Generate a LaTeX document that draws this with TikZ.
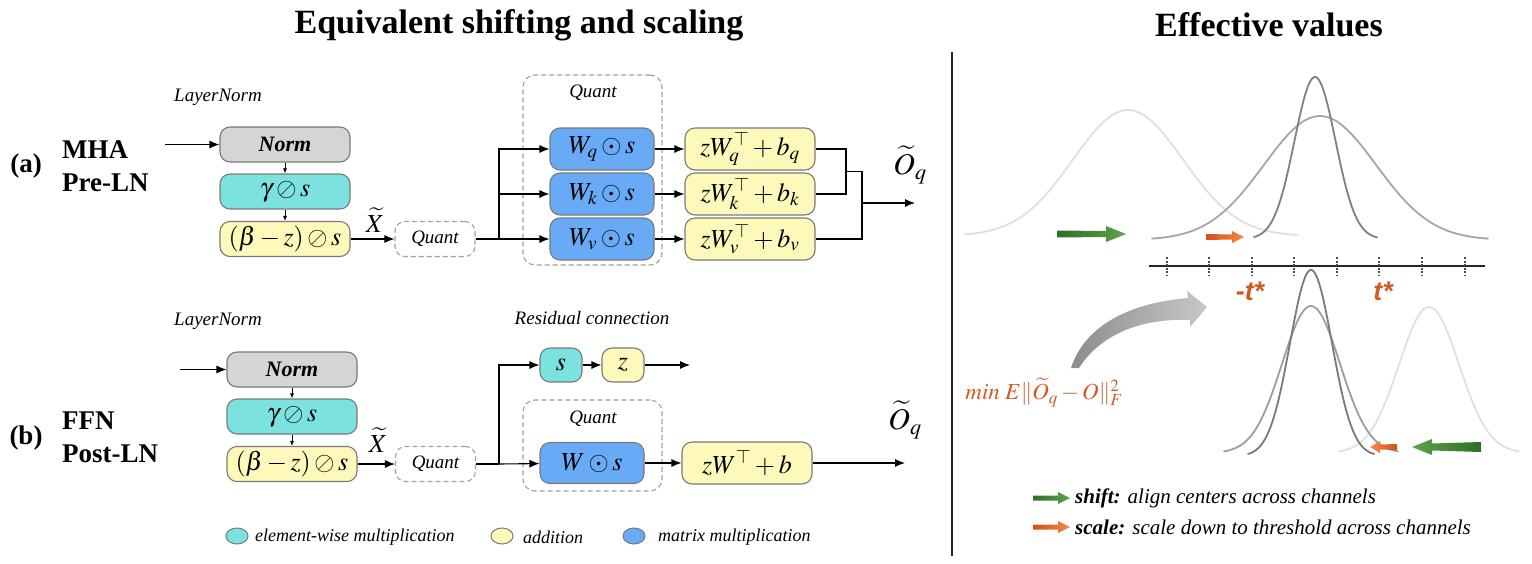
\documentclass[tikz,border=0pt]{standalone}
\usepackage{mathptmx}
\usepackage{fontspec}
\setmainfont{Liberation Serif}
\newfontfamily\lsansfam{Liberation Sans}
\usetikzlibrary{arrows.meta}
\definecolor{normgray}{HTML}{D5D5D5}
\definecolor{cyanf}{HTML}{7BE2DF}
\definecolor{yellowf}{HTML}{FCF9BA}
\definecolor{bluef}{HTML}{68AAF6}
\definecolor{bordergray}{HTML}{7A7A7A}
\definecolor{dashgray}{HTML}{A0A0A0}
\definecolor{orangeT}{HTML}{CF5A22}
\definecolor{greenD}{HTML}{2F6E26}
\definecolor{greenL}{HTML}{5EA34A}
\definecolor{orangeD}{HTML}{D4501A}
\definecolor{orangeL}{HTML}{F08A4A}
\begin{document}
\begin{tikzpicture}[x=1pt,y=-1pt,
  box/.style={draw=bordergray,line width=1.1pt,rounded corners=10pt,inner sep=0pt,minimum width=130pt,minimum height=35pt,font=\fontsize{26}{30}\selectfont},
  gbox/.style={box,fill=normgray,font=\fontsize{22}{26}\selectfont\bfseries\itshape},
  cbox/.style={box,fill=cyanf},
  ybox/.style={box,fill=yellowf},
  bbox/.style={box,fill=bluef,minimum width=104pt,minimum height=42pt},
  zbox/.style={box,fill=yellowf,minimum height=42pt},
  qbox/.style={draw=dashgray,dashed,dash pattern=on 5pt off 3pt,line width=1.1pt,rounded corners=10pt,minimum width=80pt,minimum height=35pt,inner sep=0pt,font=\fontsize{19}{22}\selectfont\itshape},
  qcont/.style={draw=dashgray,dash pattern=on 5pt off 3pt,line width=1.1pt,rounded corners=12pt,inner sep=0pt},
  itl/.style={inner sep=0pt,font=\fontsize{19}{22}\selectfont\itshape},
  lab/.style={inner sep=0pt,font=\fontsize{27}{30}\selectfont\bfseries},
  title/.style={inner sep=0pt,font=\fontsize{34}{40}\selectfont\bfseries},
  mlab/.style={inner sep=0pt,font=\fontsize{28}{30}\selectfont},
  arr/.style={-{Latex[length=10pt,width=8pt]},line width=1.1pt},
  sarr/.style={-{Latex[length=5pt,width=4pt]},line width=0.8pt},
  ln/.style={line width=1.1pt},
  legt/.style={inner sep=0pt,anchor=west,font=\fontsize{18}{20}\selectfont\itshape},
  rlegt/.style={inner sep=0pt,anchor=west,font=\fontsize{21}{24}\selectfont\itshape},
  tlab/.style={inner sep=0pt,text=orangeT,font=\fontsize{27}{30}\selectfont\lsansfam\bfseries\itshape},
  tick/.style={line width=1.5pt,black!70,dash pattern=on 2pt off 1.5pt},
  gauss/.style={line width=1.8pt,line cap=round}
]
\useasboundingbox[fill=white] (0,0) rectangle (1532,563);

% titles and separator
\node[title] (t1) at (519,25) {Equivalent shifting and scaling};
\node[title] (t2) at (1269,25) {Effective values};
\coordinate (sepT) at (952,52);
\coordinate (sepB) at (952,556);
\draw[line width=1.3pt,black!85] (sepT) -- (sepB);

% ---------- row (a)
\node[lab] (la) at (26,166) {(a)};
\node[lab,anchor=west] (mha) at (62,150) {MHA};
\node[lab,anchor=west] (preln) at (62,183) {Pre-LN};
\node[itl] (lna) at (218,97) {LayerNorm};

\node[gbox] (norma) at (285,144.5) {Norm};
\node[cbox] (gama) at (285,191.5) {$\gamma\oslash s$};
\node[ybox] (betaa) at (285,239) {$(\beta-z)\oslash s$};
\coordinate (ina) at (165,144.5);
\draw[arr] (ina) -- (norma);
\draw[sarr] (norma) -- (gama);
\draw[sarr] (gama) -- (betaa);
\node[qbox] (qa) at (435,239) {Quant};
\draw[arr] (betaa) -- (qa);
\node[mlab,font=\fontsize{26}{28}\selectfont] (xa) at (375,220) {$\widetilde{X}$};
\coordinate (sa) at (499,239);
\draw[ln] (qa) -- (sa);

\node[qcont,minimum width=139pt,minimum height=190pt] (qca) at (592.5,170) {};
\node[itl] (qla) at (593,93) {Quant};
\node[bbox] (wq) at (602,149) {$W_q\odot s$};
\node[bbox] (wk) at (602,194) {$W_k\odot s$};
\node[bbox] (wv) at (602,239) {$W_v\odot s$};
\draw[arr] (sa) |- (wq);
\draw[arr] (sa) |- (wk);
\draw[arr] (sa) -- (wv);
\node[zbox] (zq) at (750,149) {$zW_q^{\top}+b_q$};
\node[zbox] (zk) at (750,194) {$zW_k^{\top}+b_k$};
\node[zbox] (zv) at (750,239) {$zW_v^{\top}+b_v$};
\draw[arr] (wq) -- (zq);
\draw[arr] (wk) -- (zk);
\draw[arr] (wv) -- (zv);
\coordinate (ma) at (846,149);
\coordinate (mb) at (846,194);
\coordinate (mc) at (846,171.5);
\coordinate (md) at (862,171.5);
\coordinate (me) at (862,239);
\coordinate (mo) at (862,203);
\coordinate (outa) at (915,203);
\draw[ln] (zq) -- (ma) -- (mb) -- (zk);
\draw[ln] (mc) -- (md) -- (me) -- (zv);
\draw[arr] (mo) -- (outa);
\node[mlab,font=\fontsize{30}{32}\selectfont] (oa) at (910,165) {$\widetilde{O}_q$};

% ---------- row (b)
\node[lab] (lb) at (26,438) {(b)};
\node[lab,anchor=west] (ffn) at (62,421) {FFN};
\node[lab,anchor=west] (postln) at (62,454) {Post-LN};
\node[itl] (lnb) at (218,321) {LayerNorm};

\node[gbox] (normb) at (292,369.5) {Norm};
\node[cbox] (gamb) at (292,416.5) {$\gamma\oslash s$};
\node[ybox] (betab) at (292,464) {$(\beta-z)\oslash s$};
\coordinate (inb) at (180,369.5);
\draw[arr] (inb) -- (normb);
\draw[sarr] (normb) -- (gamb);
\draw[sarr] (gamb) -- (betab);
\node[qbox] (qb) at (435.5,464) {Quant};
\draw[arr] (betab) -- (qb);
\node[mlab,font=\fontsize{26}{28}\selectfont] (xb) at (378,440) {$\widetilde{X}$};
\coordinate (sb) at (499,464);
\draw[ln] (qb) -- (sb);

\node[itl] (resl) at (592,318) {Residual connection};
\node[box,fill=cyanf,minimum width=42pt,minimum height=34pt] (sbx) at (561,365) {$s$};
\node[box,fill=yellowf,minimum width=42pt,minimum height=34pt] (zbx) at (623,365) {$z$};
\coordinate (resout) at (690,365);
\draw[arr] (sb) |- (sbx);
\draw[arr] (sbx) -- (zbx);
\draw[arr] (zbx) -- (resout);

\node[qcont,minimum width=139pt,minimum height=91pt] (qcb) at (592.5,445.5) {};
\node[itl] (qlb) at (593,419) {Quant};
\node[bbox,minimum height=41pt] (wb) at (592,463) {$W\odot s$};
\draw[arr] (sb) -- (wb);
\node[zbox] (zwb) at (747,463) {$zW^{\top}+b$};
\draw[arr] (wb) -- (zwb);
\coordinate (outb) at (905,463);
\draw[arr] (zwb) -- (outb);
\node[mlab,font=\fontsize{30}{32}\selectfont] (ob) at (905,420) {$\widetilde{O}_q$};

% legend (left)
\path[draw=bordergray,line width=1pt,fill=cyanf] (237,536) ellipse [x radius=11pt,y radius=8pt];
\node[legt] (lg1) at (255,537) {element-wise multiplication};
\path[draw=bordergray,line width=1pt,fill=yellowf] (502,536) ellipse [x radius=11pt,y radius=8pt];
\node[legt] (lg2) at (523,537) {addition};
\path[draw=bordergray,line width=1pt,fill=bluef] (634,536) ellipse [x radius=11pt,y radius=8pt];
\node[legt] (lg3) at (658,537) {matrix multiplication};

% ---------- right panel
% top distributions
\draw[gauss,black!12] plot[domain=965:1297,samples=90] (\x,{236-126*exp(-0.5*((\x-1128)/55)^2)});
\draw[gauss,black!35] plot[domain=1152:1488,samples=90] (\x,{240-124*exp(-0.5*((\x-1320)/56)^2)});
\draw[gauss,black!50] plot[domain=1254:1377,samples=90] (\x,{239-162*exp(-0.5*((\x-1315)/20.5)^2)});
% axis
\draw[line width=1.8pt,black!85] (1149,266) -- (1485,266);
\foreach \t in {1167,1209,1252,1294,1337,1379,1422,1465}
  \draw[tick] (\t,257) -- (\t,276);
\node[tlab] (mt) at (1250,291) {-t*};
\node[tlab] (pt) at (1383,291) {t*};
% bottom distributions
\draw[gauss,black!12] plot[domain=1339:1519,samples=90] (\x,{453-146*exp(-0.5*((\x-1429)/30)^2)});
\draw[gauss,black!38] plot[domain=1224:1398,samples=90] (\x,{453-147*exp(-0.5*((\x-1311)/29)^2)});
\draw[gauss,black!52] plot[domain=1248:1374,samples=90] (\x,{456-186*exp(-0.5*((\x-1311)/21)^2)});

% thick arrows
\shade[left color=greenD,right color=greenL] (1057,230.5) -- (1106,231) -- (1106,226) -- (1126,234) -- (1106,242) -- (1106,237) -- (1057,237.5) -- cycle;
\shade[left color=orangeD,right color=orangeL] (1206,234) -- (1232,234.5) -- (1232,231) -- (1244,237) -- (1232,243) -- (1232,239.5) -- (1206,240) -- cycle;
\shade[left color=orangeL,right color=orangeD] (1397,444) -- (1380,444.5) -- (1380,441) -- (1370,447) -- (1380,453) -- (1380,449.5) -- (1397,450) -- cycle;
\shade[left color=greenL,right color=greenD] (1481,442) -- (1432,443.5) -- (1432,439) -- (1412,447) -- (1432,455) -- (1432,450.5) -- (1481,452) -- cycle;

% curved gray arrow
\shade[left color=black!45,right color=black!22] (1071,368) .. controls (1085,325) and (1130,303) .. (1188,298) -- (1187,291) -- (1207,307) -- (1190,327) -- (1190,320) .. controls (1140,318) and (1100,335) .. (1079,368) -- cycle;

% loss
\node[inner sep=0pt,text=orangeT,font=\fontsize{23}{26}\selectfont] (loss) at (1044,392) {$\mathit{min}\;E\|\widetilde{O}_q-O\|_F^2$};

% legend (right)
\shade[left color=greenD,right color=greenL] (1033,495.5) -- (1058,495.5) -- (1058,492) -- (1070,498) -- (1058,504) -- (1058,500.5) -- (1033,500.5) -- cycle;
\node[rlegt] (rl1) at (1075,498) {\textbf{shift:} align centers across channels};
\shade[left color=orangeD,right color=orangeL] (1033,524.5) -- (1058,524.5) -- (1058,521) -- (1070,527) -- (1058,533) -- (1058,529.5) -- (1033,529.5) -- cycle;
\node[rlegt] (rl2) at (1075,527) {\textbf{scale:} scale down to threshold across channels};
\end{tikzpicture}
\end{document}
